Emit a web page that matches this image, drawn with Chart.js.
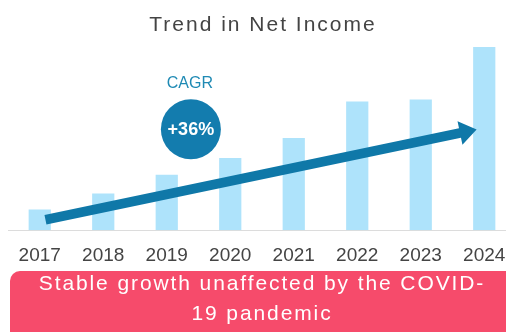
<!DOCTYPE html>
<html>
<head>
<meta charset="utf-8">
<script src="https://cdn.jsdelivr.net/npm/chart.js@4/dist/chart.umd.min.js"></script>
<style>
  html, body { margin: 0; padding: 0; background: #fff; overflow: hidden; }
  body { width: 506px; height: 332px; position: relative; font-family: "Liberation Sans", Arial, sans-serif; }
  #wrap { position: absolute; left: 0; top: 0; width: 530px; height: 332px; }
  #title {
    position: absolute; left: 0; top: 12px; width: 526px; text-align: center;
    font-size: 21px; line-height: 24px; letter-spacing: 2px; color: #444;
  }
  #banner {
    position: absolute; left: 10px; top: 271px; width: 540px; height: 80px;
    background: #f64b6b; border-radius: 10px 0 0 10px; color: #fff;
  }
  #banner div {
    position: absolute; left: 0; width: 504px; top: -3px; text-align: center;
    font-size: 21px; line-height: 30px; letter-spacing: 1.9px;
  }
</style>
</head>
<body>
<div id="wrap"><canvas id="chart"></canvas></div>
<div id="title">Trend in Net Income</div>
<div id="banner"><div>Stable growth unaffected by the COVID-<br>19 pandemic</div></div>
<script>
const years = ['2017', '2018', '2019', '2020', '2021', '2022', '2023', '2024'];
const netIncome = [21, 37, 56, 73, 93, 130, 132, 185];

// growth arrow, in (category index, value) coordinates
const arrowFrom = [0.09, 10.5];
const arrowTo = [6.88, 101.7];
// CAGR bubble position and label
const cagrAt = [2.38, 102];
const cagrLabel = 'CAGR';
const cagrValue = '+36%';

const overlay = {
  id: 'overlay',
  afterDatasetsDraw(chart) {
    const { ctx, scales: { x, y } } = chart;
    const x0 = x.getPixelForValue(arrowFrom[0]), y0 = y.getPixelForValue(arrowFrom[1]);
    const x1 = x.getPixelForValue(arrowTo[0]), y1 = y.getPixelForValue(arrowTo[1]);
    const ang = Math.atan2(y1 - y0, x1 - x0);
    const headLen = 17, headHalf = 12, shaftHalf = 4.8;
    ctx.save();
    ctx.translate(x0, y0);
    ctx.rotate(ang);
    const len = Math.hypot(x1 - x0, y1 - y0);
    ctx.fillStyle = '#0f78a8';
    ctx.beginPath();
    ctx.moveTo(0, -shaftHalf);
    ctx.lineTo(len - headLen, -shaftHalf);
    ctx.lineTo(len - headLen, -headHalf);
    ctx.lineTo(len, 0);
    ctx.lineTo(len - headLen, headHalf);
    ctx.lineTo(len - headLen, shaftHalf);
    ctx.lineTo(0, shaftHalf);
    ctx.closePath();
    ctx.fill();
    ctx.restore();

    const cx = x.getPixelForValue(cagrAt[0]), cy = y.getPixelForValue(cagrAt[1]);
    ctx.save();
    ctx.fillStyle = '#137cae';
    ctx.beginPath();
    ctx.arc(cx, cy, 30, 0, Math.PI * 2);
    ctx.fill();
    ctx.textAlign = 'center';
    ctx.textBaseline = 'alphabetic';
    ctx.fillStyle = '#fff';
    ctx.font = 'bold 18px "Liberation Sans", Arial, sans-serif';
    ctx.fillText(cagrValue, cx, cy + 6);
    ctx.fillStyle = '#1f8ab4';
    ctx.font = '16px "Liberation Sans", Arial, sans-serif';
    ctx.fillText(cagrLabel, cx - 1, cy - 41);
    ctx.restore();
  }
};

new Chart(document.getElementById('chart'), {
  type: 'bar',
  data: {
    labels: years,
    datasets: [{
      data: netIncome,
      backgroundColor: '#aee3fb',
      barPercentage: 0.35,
      categoryPercentage: 1
    }]
  },
  options: {
    responsive: true,
    maintainAspectRatio: false,
    animation: false,
    layout: { padding: { left: 8, right: 14, top: 42, bottom: 51 } },
    plugins: { legend: { display: false }, title: { display: false }, tooltip: { enabled: false } },
    scales: {
      x: {
        grid: { display: false, drawTicks: false },
        border: { display: true, color: '#dcdcdc', width: 1 },
        ticks: { color: '#444', padding: 14, font: { size: 19, family: '"Liberation Sans", Arial, sans-serif' } }
      },
      y: { display: false, min: 0, max: 190 }
    }
  },
  plugins: [overlay]
});
</script>
</body>
</html>
